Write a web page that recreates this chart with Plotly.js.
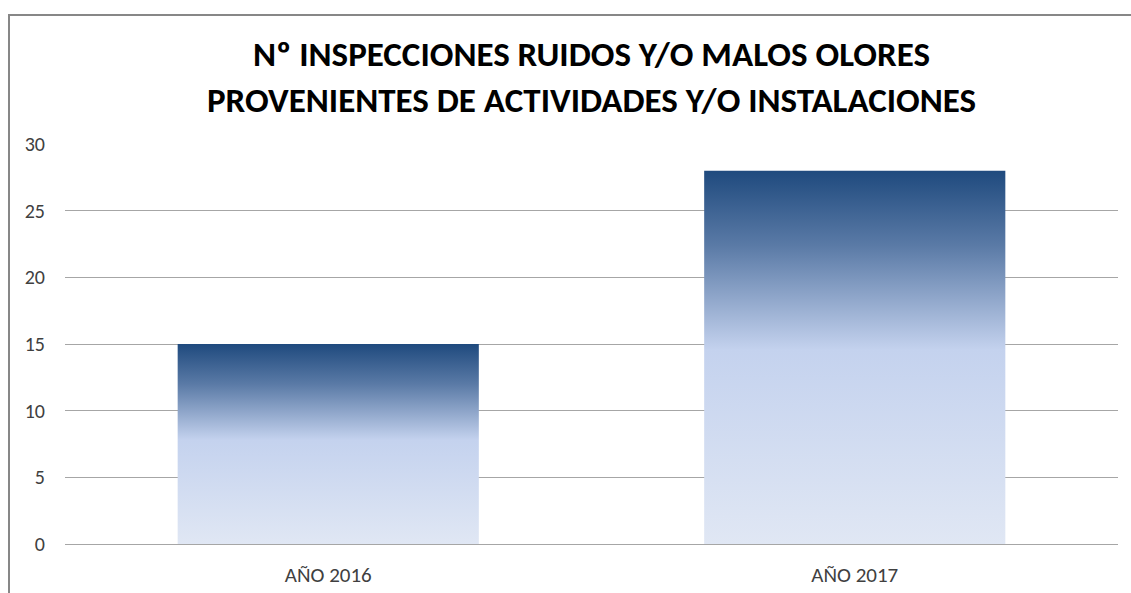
<!DOCTYPE html>
<html><head><meta charset="utf-8">
<script src="https://cdn.plot.ly/plotly-3.0.1.min.js"></script>
<style>
html,body{margin:0;padding:0;background:#fff;overflow:hidden;}
#chart{position:absolute;left:0;top:0;width:1131px;height:593px;}
#frame{position:absolute;left:8px;top:14px;width:1200px;height:700px;border:2px solid #878787;pointer-events:none;}
</style></head>
<body>
<div id="chart"></div>
<div id="frame"></div>
<script>
const categories = ["AÑO 2016", "AÑO 2017"];
const values = [15, 28];
const titleLines = ["Nº INSPECCIONES RUIDOS Y/O MALOS OLORES", "PROVENIENTES DE ACTIVIDADES Y/O INSTALACIONES"];
const yTicks = [0, 5, 10, 15, 20, 25, 30];

const font = "Calibri, Carlito, Lato, sans-serif";
const data = [{
  type: "bar", x: categories, y: values,
  marker: {color: "#C6D4EE", line: {width: 0}},
  width: 0.572, hoverinfo: "none"
}];
const layout = {
  width: 1131, height: 593,
  margin: {l: 65, r: 13, t: 144, b: 49},
  paper_bgcolor: "#fff", plot_bgcolor: "#fff",
  showlegend: false,
  title: {text: "<b>" + titleLines.join("<br>") + "</b>", x: 0.5, xref: "paper", yref: "container",
    y: 1 - 66 / 593, yanchor: "middle",
    font: {family: font, size: 35, color: "#000"}},
  xaxis: {showgrid: false, showline: false, zeroline: false, ticks: "",
    tickfont: {family: font, size: 21, color: "#404040"}, ticklabelstandoff: 16},
  yaxis: {range: [0, 30], tickvals: yTicks, showgrid: true, gridcolor: "#A6A6A6", gridwidth: 1,
    zeroline: true, zerolinecolor: "#A6A6A6", zerolinewidth: 1, showline: false, ticks: "",
    tickfont: {family: font, size: 20, color: "#404040"}, ticklabelstandoff: 19}
};
Plotly.newPlot("chart", data, layout, {displayModeBar: false, staticPlot: true}).then(gd => {
  const svg = gd.querySelector("svg.main-svg");
  const ns = "http://www.w3.org/2000/svg";
  let defs = svg.querySelector("defs");
  const lg = document.createElementNS(ns, "linearGradient");
  lg.setAttribute("id", "barGrad");
  lg.setAttribute("x1", "0"); lg.setAttribute("y1", "0");
  lg.setAttribute("x2", "0"); lg.setAttribute("y2", "1");
  [["0", "#1F4A7E"], ["0.2", "#5A7AA6"], ["0.48", "#C4D2EE"], ["1", "#E0E7F4"]].forEach(([o, c]) => {
    const s = document.createElementNS(ns, "stop");
    s.setAttribute("offset", o); s.setAttribute("stop-color", c);
    lg.appendChild(s);
  });
  defs.appendChild(lg);
  gd.querySelectorAll(".bars .point path").forEach(p => { p.style.fill = "url(#barGrad)"; });
});
</script>
</body></html>
